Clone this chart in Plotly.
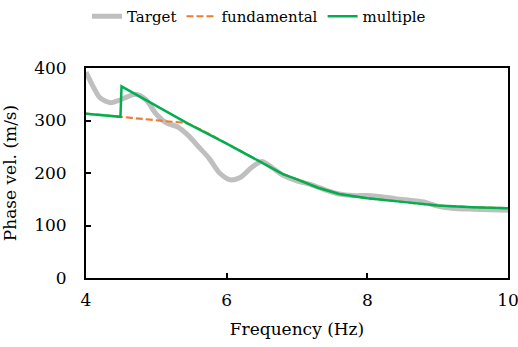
import plotly.graph_objects as go

# Target dispersion curve
target_f = [4.0, 4.1, 4.2, 4.35, 4.5, 4.7, 4.85, 5.0, 5.15, 5.3, 5.45, 5.6, 5.75, 5.9, 6.05,
            6.2, 6.35, 6.5, 6.65, 6.8, 7.0, 7.2, 7.4, 7.6, 7.8, 8.0, 8.2, 8.4, 8.6, 8.8,
            9.0, 9.2, 9.5, 10.0]
target_v = [392, 365, 343, 334, 340, 350, 340, 312, 295, 288, 272, 250, 228, 200, 187,
            192, 210, 222, 210, 196, 185, 178, 168, 160, 157, 157, 155, 151, 148, 145,
            137, 133, 131, 129]

# Fundamental mode
fund_f = [4.0, 4.5, 4.8, 5.1, 5.45, 6.0, 6.5, 6.8, 7.0, 7.3, 7.6, 8.0, 8.5, 9.0, 9.5, 10.0]
fund_v = [313, 307, 303, 299, 294, 256, 220, 198, 188, 172, 160, 152, 145, 138, 135, 133]

# Multiple (effective) mode
mult_f = [4.0, 4.49, 4.505, 5.0, 5.45, 6.0, 6.5, 6.8, 7.0, 7.3, 7.6, 8.0, 8.5, 9.0, 9.5, 10.0]
mult_v = [313, 307, 365, 328, 294, 256, 220, 198, 188, 172, 160, 152, 145, 138, 135, 133]

x_ticks = [4, 6, 8, 10]
y_ticks = [0, 100, 200, 300, 400]

FONT = "DejaVu Serif"
FS = 17

fig = go.Figure()
fig.add_trace(go.Scatter(x=target_f, y=target_v, mode="lines", name="Target",
                         line=dict(color="#BFBFBF", width=5, shape="spline", smoothing=0.8)))
fig.add_trace(go.Scatter(x=fund_f, y=fund_v, mode="lines", name="fundamental",
                         line=dict(color="#ED7D31", width=2.2, dash="7px,3px", shape="spline", smoothing=0.5)))
fig.add_trace(go.Scatter(x=mult_f, y=mult_v, mode="lines", name="multiple",
                         line=dict(color="#00B050", width=2.5)))

fig.update_layout(
    width=518, height=347,
    margin=dict(l=86, r=10, t=68, b=69),
    paper_bgcolor="white", plot_bgcolor="white",
    font=dict(family=FONT, size=FS, color="black"),
    showlegend=True,
    legend=dict(orientation="h", x=0.5, xanchor="center", y=1.0, yanchor="top",
                xref="container", yref="container", font=dict(family=FONT, size=15),
                bgcolor="rgba(0,0,0,0)", itemwidth=30, tracegroupgap=0),
    xaxis=dict(range=[4, 10], tickvals=x_ticks, ticks="inside", ticklen=5, tickwidth=1.5,
               tickcolor="black", showline=True, linecolor="black", linewidth=2, mirror=True,
               showgrid=False, zeroline=False, ticklabelstandoff=6, automargin=False,
               ticklabeloverflow="allow",
               title=dict(text="Frequency (Hz)", font=dict(family=FONT, size=FS), standoff=14)),
    yaxis=dict(range=[0, 400], tickvals=y_ticks, ticks="inside", ticklen=5, tickwidth=1.5,
               tickcolor="black", showline=True, linecolor="black", linewidth=2, mirror=True,
               showgrid=False, zeroline=False, ticklabelstandoff=14, automargin=False,
               ticklabeloverflow="allow",
               title=dict(text="Phase vel. (m/s)", font=dict(family=FONT, size=FS), standoff=14)),
)

fig.write_html("out.html")
